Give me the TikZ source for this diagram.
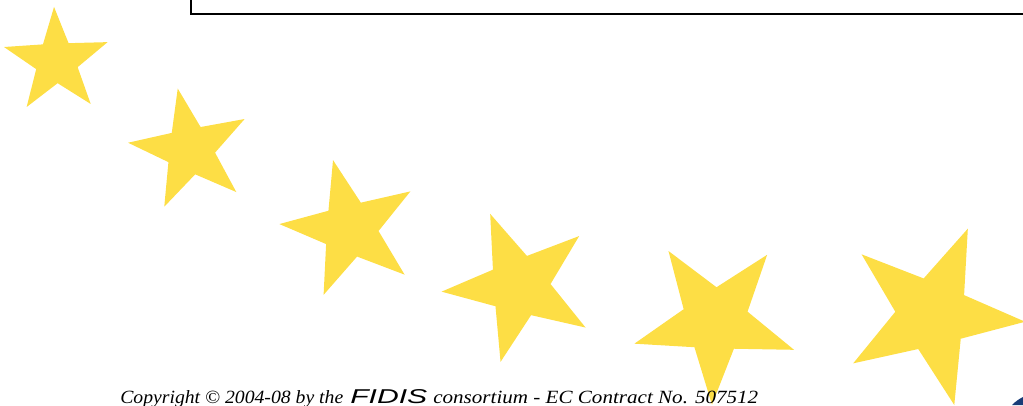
\documentclass[tikz,border=0pt]{standalone}
\usepackage{fontspec}
\setmainfont{Liberation Serif}
\setsansfont{Liberation Sans}
\usetikzlibrary{shapes.geometric}
\definecolor{giallo}{RGB}{253,222,69}
\definecolor{blufidis}{RGB}{25,60,120}

\begin{document}
\begin{tikzpicture}[x=0.75pt,y=-0.75pt,
    stella/.style={star, star points=5, star point ratio=2.5, fill=giallo,
        draw=none, inner sep=0pt, outer sep=0pt},
    riga/.style={anchor=base west, inner sep=0pt, font=\fontsize{14}{16}\selectfont\itshape}]
        % Area del disegno
        \useasboundingbox (0,0) rectangle (1023,405);

        % Cornice in alto
        \draw[line width=1.5pt] (191,-10) -- (191,14) -- (1040,14);

        % Stelle
        \node[stella, minimum size=81.8pt, rotate=2.7] (s1) at (56.6,61.4) {};
        \node[stella, minimum size=93.8pt, rotate=11.5] (s2) at (190.2,149.8) {};
        \node[stella, minimum size=106.5pt, rotate=14] (s3) at (350.2,229) {};
        \node[stella, minimum size=117pt, rotate=22] (s4) at (519.4,286.2) {};
        \node[stella, minimum size=126pt, rotate=33.8] (s5) at (715.2,320.8) {};
        \node[stella, minimum size=139.5pt, rotate=49.6] (s6) at (932.4,314.6) {};

        % Logo in basso a destra
        \fill[blufidis] (1012,405) .. controls (1016,401) and (1019,399) .. (1023,397) -- (1023,405) -- cycle;

        % Copyright
        \node[riga] (cpsinistra) at (120,403) {\resizebox{167.25pt}{\height}{Copyright © 2004-08 by the}};
        \node[riga, font=\fontsize{15}{16}\selectfont\sffamily\itshape] (cpfidis) at (350,403) {\resizebox{57.75pt}{\height}{FIDIS}};
        \node[riga] (cpdestra) at (433,403) {\resizebox{243.75pt}{\height}{consortium - EC Contract No. 507512}};
\end{tikzpicture}
\end{document}
